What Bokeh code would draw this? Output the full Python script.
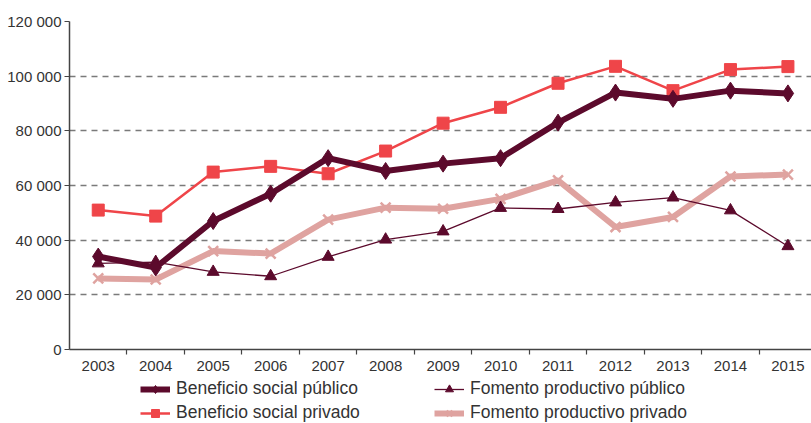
from bokeh.plotting import figure
from bokeh.layouts import column
from bokeh.models import Range1d, FixedTicker, Legend, LegendItem
from bokeh.embed import file_html
from bokeh.resources import INLINE

years = [2003, 2004, 2005, 2006, 2007, 2008, 2009, 2010, 2011, 2012, 2013, 2014, 2015]
benef_pub = [34000, 30000, 47000, 57000, 70000, 65300, 68000, 70000, 83000, 94000, 91700, 94700, 93700]
benef_priv = [51000, 48800, 64900, 67000, 64300, 72600, 82800, 88600, 97400, 103600, 94700, 102400, 103500]
fom_pub = [31500, 32000, 28400, 26800, 33900, 40200, 43200, 51800, 51400, 53800, 55600, 50900, 37800]
fom_priv = [26000, 25600, 36000, 35100, 47500, 51900, 51500, 55100, 61900, 44800, 48500, 63300, 64000]
y_ticks = [0, 20000, 40000, 60000, 80000, 100000, 120000]
y_labels = ["0", "20 000", "40 000", "60 000", "80 000", "100 000", "120 000"]
names = ["Beneficio social público", "Beneficio social privado",
         "Fomento productivo público", "Fomento productivo privado"]

DARK = "#5c0a2c"
RED = "#ef4549"
PINK = "#dfa3a0"
FONT = "Liberation Sans"
TXT = "#333333"

styles = [
    dict(line=dict(line_color=DARK, line_width=6),
         mark=dict(marker="diamond", size=17, fill_color=DARK, line_color=DARK)),
    dict(line=dict(line_color=RED, line_width=2.5),
         mark=dict(marker="square", size=12, fill_color=RED, line_color=RED)),
    dict(line=dict(line_color=DARK, line_width=1.3),
         mark=dict(marker="triangle", size=12, fill_color=DARK, line_color=DARK)),
    dict(line=dict(line_color=PINK, line_width=6),
         mark=dict(marker="x", size=14, line_color=PINK, line_width=2.5)),
]
series = [benef_pub, benef_priv, fom_pub, fom_priv]

p = figure(width=811, height=380, output_backend="svg", toolbar_location=None,
           x_range=Range1d(2002.5, 2015.41), y_range=Range1d(0, 120000),
           min_border_left=69, min_border_right=0, min_border_top=21, min_border_bottom=31)
p.outline_line_color = None
p.background_fill_color = None

# grid
p.xgrid.visible = False
p.ygrid.ticker = FixedTicker(ticks=y_ticks[1:])
p.ygrid.grid_line_color = "#7a7a7a"
p.ygrid.grid_line_width = 1.6
p.ygrid.grid_line_dash = "6 5"

# y axis
ya = p.yaxis[0]
ya.ticker = FixedTicker(ticks=y_ticks)
ya.major_label_overrides = {t: l for t, l in zip(y_ticks, y_labels)}
ya.axis_line_color = "#444444"
ya.axis_line_width = 1.5
ya.major_tick_out = 5
ya.major_tick_in = 0
ya.major_tick_line_color = "#444444"
ya.minor_tick_line_color = None
ya.major_label_text_font = FONT
ya.major_label_text_font_size = "15px"
ya.major_label_text_color = TXT
ya.major_label_standoff = 3

# x axis
xa = p.xaxis[0]
xa.ticker = FixedTicker(ticks=years, minor_ticks=[y + 0.5 for y in years])
xa.major_label_overrides = {y: str(y) for y in years}
xa.axis_line_color = "#444444"
xa.axis_line_width = 1.5
xa.major_tick_out = 0
xa.major_tick_in = 0
xa.minor_tick_out = 5
xa.minor_tick_in = 0
xa.minor_tick_line_color = "#444444"
xa.minor_tick_line_width = 1.2
xa.major_label_text_font = FONT
xa.major_label_text_font_size = "15px"
xa.major_label_text_color = TXT
xa.major_label_standoff = 6

# series (draw order: pink, thin dark, red, thick dark on top)
for i in [3, 2, 1, 0]:
    p.line(years, series[i], **styles[i]["line"])
    p.scatter(years, series[i], **styles[i]["mark"])

# legend strip below (its ranges exclude the data, so only the legend shows)
lg = figure(width=811, height=43, output_backend="svg", toolbar_location=None,
            x_range=Range1d(0, 1), y_range=Range1d(0, 1),
            x_axis_location=None, y_axis_location=None,
            min_border_left=0, min_border_right=0, min_border_top=0, min_border_bottom=0)
lg.outline_line_color = None
lg.grid.visible = False
items = []
for i in range(4):
    r1 = lg.line(years, series[i], **styles[i]["line"])
    r2 = lg.scatter(years, series[i], **styles[i]["mark"])
    items.append(LegendItem(label=names[i], renderers=[r1, r2]))

legend = Legend(items=items, location=(71, 0), orientation="vertical", ncols=2,
                glyph_width=30, glyph_height=20, label_height=20, label_width=255, spacing=3,
                padding=0, margin=0, label_standoff=6,
                label_text_font=FONT, label_text_font_size="17.5px", label_text_color=TXT,
                border_line_color=None, background_fill_alpha=0)
lg.add_layout(legend, "center")

open("out.html", "w").write(file_html(column(p, lg, spacing=0), INLINE))
